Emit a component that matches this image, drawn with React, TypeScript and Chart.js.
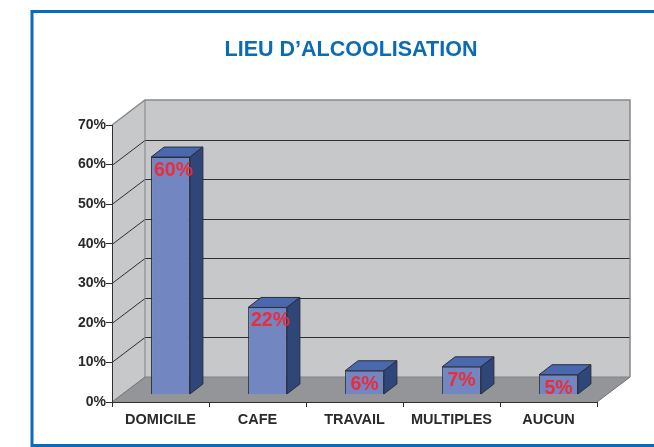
import React, { useEffect, useRef } from "react";
import { Chart, registerables } from "chart.js";

Chart.register(...registerables);

const titleText = "LIEU D’ALCOOLISATION";
const categories = ["DOMICILE", "CAFE", "TRAVAIL", "MULTIPLES", "AUCUN"];
const values = [60, 22, 6, 7, 5];
const yMax = 70;
const yStep = 10;

const FONT = "'Liberation Sans', Arial, sans-serif";
const WALL_DX = 33;
const WALL_DY = -25;
const BAR_SHIFT_X = 10;
const BAR_SHIFT_Y = -7.5;
const BAR_DX = 13;
const BAR_DY = -10;

function poly(ctx: CanvasRenderingContext2D, pts: number[][], fill: string | null, stroke?: string, lw = 1) {
  ctx.beginPath();
  pts.forEach((p, i) => (i ? ctx.lineTo(p[0], p[1]) : ctx.moveTo(p[0], p[1])));
  ctx.closePath();
  if (fill) {
    ctx.fillStyle = fill;
    ctx.fill();
  }
  if (stroke) {
    ctx.strokeStyle = stroke;
    ctx.lineWidth = lw;
    ctx.stroke();
  }
}

function line(ctx: CanvasRenderingContext2D, pts: number[][], color: string, lw = 1) {
  ctx.beginPath();
  pts.forEach((p, i) => (i ? ctx.lineTo(p[0], p[1]) : ctx.moveTo(p[0], p[1])));
  ctx.strokeStyle = color;
  ctx.lineWidth = lw;
  ctx.stroke();
}

const framePlugin = {
  id: "frame3d",
  beforeDraw(chart: any) {
    const { ctx, width } = chart;
    const { left, right, top, bottom } = chart.chartArea;
    const y = chart.scales.y;
    ctx.save();
    // outer frame
    line(ctx, [[width, 11.5], [32, 11.5], [32, 445.5], [width, 445.5]], "#0a6cb8", 3);
    const bl = left + WALL_DX;
    const br = right + WALL_DX;
    const bt = top + WALL_DY;
    const bb = bottom + WALL_DY;
    // back wall, left wall, floor
    poly(ctx, [[bl, bt], [br, bt], [br, bb], [bl, bb]], "#c7c8ca");
    poly(ctx, [[left, top], [bl, bt], [bl, bb], [left, bottom]], "#c7c8ca");
    poly(ctx, [[left, bottom], [bl, bb], [br, bb], [right, bottom]], "#939598");
    // grid lines
    for (let v = yStep; v < yMax; v += yStep) {
      const py = Math.round(y.getPixelForValue(v)) + 0.5;
      line(ctx, [[left, py], [bl, py + WALL_DY], [br, py + WALL_DY]], "#2f2f30", 1);
    }
    // structural edges
    line(ctx, [[left, top], [bl, bt], [br, bt], [br, bb]], "#86888a", 1.5);
    line(ctx, [[bl, bt], [bl, bb], [br, bb]], "#808285", 1);
    line(ctx, [[left, bottom], [bl, bb]], "#6d6e71", 1);
    line(ctx, [[right, bottom], [br, bb]], "#6d6e71", 1);
    ctx.restore();
  },
  beforeDatasetDraw(chart: any, args: any) {
    const { ctx } = chart;
    const bars = chart.getDatasetMeta(args.index).data;
    ctx.save();
    ctx.translate(BAR_SHIFT_X, BAR_SHIFT_Y);
    bars.forEach((b: any) => {
      const l = b.x - b.width / 2;
      const r = b.x + b.width / 2;
      poly(ctx, [[l, b.y], [l + BAR_DX, b.y + BAR_DY], [r + BAR_DX, b.y + BAR_DY], [r, b.y]], "#4a68ae", "#2a2d3c", 1);
      poly(ctx, [[r, b.y], [r + BAR_DX, b.y + BAR_DY], [r + BAR_DX, b.base + BAR_DY], [r, b.base]], "#2f4679", "#2a2d3c", 1);
    });
  },
  afterDatasetDraw(chart: any, args: any) {
    const { ctx } = chart;
    ctx.restore();
    const bars = chart.getDatasetMeta(args.index).data;
    ctx.save();
    ctx.font = `bold 19.5px ${FONT}`;
    ctx.fillStyle = "#ee2b38";
    ctx.textAlign = "center";
    ctx.textBaseline = "middle";
    bars.forEach((b: any, i: number) => {
      const nudge = values[i] >= 20 ? 3 : 0;
      ctx.fillText(`${values[i]}%`, b.x + BAR_SHIFT_X + nudge, b.y + BAR_SHIFT_Y + 13.5);
    });
    ctx.restore();
  },
};

export default function App() {
  const ref = useRef<HTMLCanvasElement | null>(null);
  useEffect(() => {
    const chart = new Chart(ref.current as HTMLCanvasElement, {
      type: "bar",
      data: {
        labels: categories,
        datasets: [
          {
            data: values,
            backgroundColor: "#7287c2",
            borderColor: "#2a2d3c",
            borderWidth: 1,
            barPercentage: 0.4,
            categoryPercentage: 1,
            clip: false,
            yAxisID: "y",
          } as any,
        ],
      },
      options: {
        responsive: false,
        animation: false,
        events: [],
        layout: { padding: { left: 48, right: 0, top: 0, bottom: 0 } },
        plugins: {
          legend: { display: false },
          tooltip: { enabled: false },
          title: {
            display: true,
            text: titleText,
            color: "#0b6bb5",
            font: { family: FONT, size: 21.5, weight: "bold", lineHeight: 1.2 },
            padding: { top: 37, bottom: 62.2 },
          },
        },
        scales: {
          x: {
            afterFit(s: any) {
              s.height = 45;
            },
            grid: { drawOnChartArea: false, color: "#2f2f30", tickLength: 5 },
            border: { color: "#2f2f30", width: 1 },
            ticks: {
              color: "#2b2a29",
              font: { family: FONT, size: 14.5, weight: "bold" },
              maxRotation: 0,
              autoSkip: false,
              padding: 4,
            },
          },
          y: {
            min: 0,
            max: yMax,
            afterFit(s: any) {
              s.width = 64;
            },
            grid: { drawOnChartArea: false, color: "#2f2f30", tickLength: 6 },
            border: { color: "#2f2f30", width: 1 },
            ticks: {
              stepSize: yStep,
              color: "#2b2a29",
              font: { family: FONT, size: 14, weight: "bold" },
              padding: 0,
              callback: (v: any) => `${v}%`,
            },
          },
          spacer: {
            position: "right",
            afterFit(s: any) {
              s.width = 57;
            },
            grid: { display: false },
            border: { display: false },
            ticks: { display: false },
          },
        },
      },
      plugins: [framePlugin],
    } as any);
    return () => chart.destroy();
  }, []);
  return (
    <div style={{ position: "absolute", left: 0, top: 0, width: 654, height: 447, background: "#fff" }}>
      <canvas ref={ref} width={654} height={447} style={{ display: "block", filter: "blur(0.4px)" }} />
    </div>
  );
}
